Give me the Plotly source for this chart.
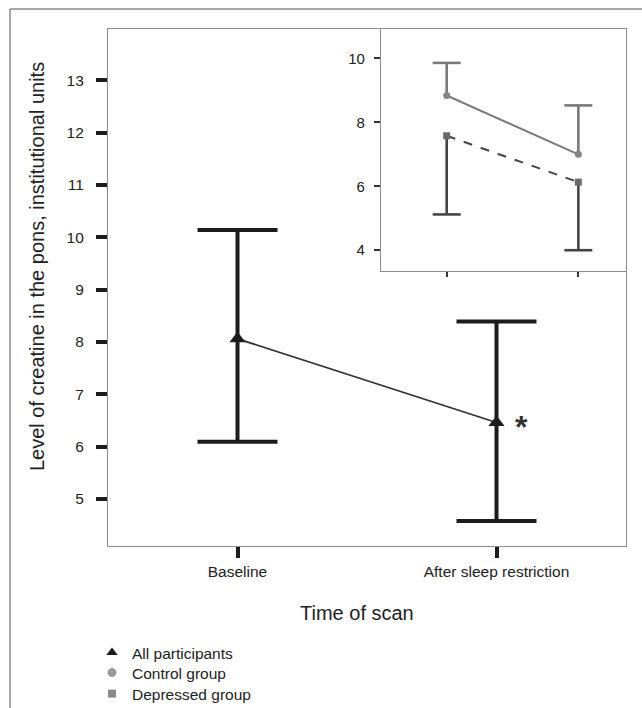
import plotly.graph_objects as go

# ---------------- data ----------------
categories = ["Baseline", "After sleep restriction"]

all_mean = [8.06, 6.46]
all_upper = [10.14, 8.39]
all_lower = [6.09, 4.58]

control_mean = [8.84, 7.00]
control_upper = [9.86, 8.53]

depressed_mean = [7.58, 6.13]
depressed_lower = [5.12, 4.00]

main_yticks = [5, 6, 7, 8, 9, 10, 11, 12, 13]
inset_yticks = [4, 6, 8, 10]

legend_names = ["All participants", "Control group", "Depressed group"]

FONT = "Liberation Sans, Arial, Helvetica, sans-serif"
DARK = "#1c1c1c"
CTRL = "#7a7a7a"
DEPR = "#454545"

fig = go.Figure()

# ---------------- main panel ----------------
fig.add_trace(go.Scatter(
    x=categories, y=all_mean, mode="lines+markers",
    line=dict(color="#333333", width=1.8),
    marker=dict(symbol="triangle-up", size=14, color=DARK),
    error_y=dict(type="data", symmetric=False,
                 array=[u - m for u, m in zip(all_upper, all_mean)],
                 arrayminus=[m - l for m, l in zip(all_mean, all_lower)],
                 color=DARK, thickness=4, width=40),
    showlegend=False, xaxis="x", yaxis="y"))


def stems(means, ends):
    xs, ys = [], []
    for c, m, e in zip(categories, means, ends):
        xs += [c, c, None]
        ys += [m, e, None]
    return xs, ys


# ---------------- inset ----------------
cx, cy = stems(control_mean, control_upper)
fig.add_trace(go.Scatter(x=cx, y=cy, mode="lines", line=dict(color=CTRL, width=2.6),
                         showlegend=False, xaxis="x2", yaxis="y2", hoverinfo="skip"))
fig.add_trace(go.Scatter(x=categories, y=control_upper, mode="markers",
                         marker=dict(symbol="line-ew", size=20, line=dict(color=CTRL, width=2.6)),
                         showlegend=False, xaxis="x2", yaxis="y2"))
dx, dy = stems(depressed_mean, depressed_lower)
fig.add_trace(go.Scatter(x=dx, y=dy, mode="lines", line=dict(color=DEPR, width=2.6),
                         showlegend=False, xaxis="x2", yaxis="y2", hoverinfo="skip"))
fig.add_trace(go.Scatter(x=categories, y=depressed_lower, mode="markers",
                         marker=dict(symbol="line-ew", size=20, line=dict(color=DEPR, width=2.6)),
                         showlegend=False, xaxis="x2", yaxis="y2"))

fig.add_trace(go.Scatter(x=categories, y=control_mean, mode="lines+markers",
                         line=dict(color=CTRL, width=2),
                         marker=dict(symbol="circle", size=7, color="#858585"),
                         showlegend=False, xaxis="x2", yaxis="y2"))
fig.add_trace(go.Scatter(x=categories, y=depressed_mean, mode="lines+markers",
                         line=dict(color=DEPR, width=2, dash="dash"),
                         marker=dict(symbol="square", size=7, color="#6a6a6a"),
                         showlegend=False, xaxis="x2", yaxis="y2"))

# ---------------- legend entries (one small legend per row) ----------------
legend_styles = [
    dict(symbol="triangle-up", size=10, color=DARK),
    dict(symbol="circle", size=9, color="#9a9a9a"),
    dict(symbol="square", size=8, color="#8a8a8a"),
]
legend_ids = ["legend", "legend2", "legend3"]
legend_rows_px = [653, 673, 694]
for name, mk, lid in zip(legend_names, legend_styles, legend_ids):
    fig.add_trace(go.Scatter(x=[None], y=[None], mode="markers", name=name,
                             marker=mk, showlegend=True, legend=lid,
                             xaxis="x", yaxis="y"))

# ---------------- layout ----------------
W, H = 642, 708
L, R, T, B = 108, 16, 29, 162
pw, ph = W - L - R, H - T - B


def px_x(p):
    return (p - L) / pw


def px_y(p):
    return (H - B - p) / ph


axis_line = dict(showline=True, linecolor="#8c8c8c", linewidth=1.2, mirror=True,
                 showgrid=False, zeroline=False)

fig.update_layout(
    width=W, height=H, autosize=False,
    margin=dict(l=L, r=R, t=T, b=B, autoexpand=False),
    paper_bgcolor="white", plot_bgcolor="white",
    font=dict(family=FONT, color="#222222"),
    xaxis=dict(type="category", range=[-0.5, 1.5], domain=[0, 1],
               tickvals=categories, ticktext=categories,
               ticks="outside", ticklen=11, tickwidth=4, tickcolor=DARK,
               tickfont=dict(size=15.5, color="#222222"), ticklabelstandoff=0,
               **axis_line),
    yaxis=dict(range=[4.1, 13.98], domain=[0, 1], tickvals=main_yticks,
               ticks="outside", ticklen=11, tickwidth=3.5, tickcolor=DARK,
               tickfont=dict(size=15.5, color="#222222"), ticklabelstandoff=9,
               **axis_line),
    xaxis2=dict(type="category", range=[-0.499, 1.362], domain=[px_x(381), 1],
                anchor="y2", tickvals=categories, showticklabels=False,
                ticks="outside", ticklen=5, tickwidth=2, tickcolor="#333333",
                **axis_line),
    yaxis2=dict(range=[3.35, 10.92], domain=[px_y(271), 1], anchor="x2",
                tickvals=inset_yticks, ticks="outside", ticklen=6, tickwidth=1.5,
                tickcolor="#333333", tickfont=dict(size=15, color="#222222"),
                ticklabelstandoff=6, **axis_line),
    showlegend=True,
)
for lid, ypx in zip(legend_ids, legend_rows_px):
    fig.update_layout({lid: dict(x=92 / W, y=1 - ypx / H, xref="container", yref="container",
                                 xanchor="left", yanchor="middle",
                                 font=dict(size=15.5, color="#222222"),
                                 bgcolor="rgba(0,0,0,0)", itemwidth=30)})

fig.add_annotation(text="Level of creatine in the pons, institutional units",
                   xref="paper", yref="paper", x=px_x(37), y=px_y(267),
                   textangle=-90, showarrow=False, xanchor="center", yanchor="middle",
                   font=dict(size=20, color="#222222"))
fig.add_annotation(text="Time of scan", xref="paper", yref="paper",
                   x=px_x(357), y=px_y(613), showarrow=False,
                   xanchor="center", yanchor="middle",
                   font=dict(size=20, color="#222222"))
fig.add_annotation(text="<b>*</b>", xref="x", yref="y", x=categories[1], y=all_mean[1],
                   xshift=25, yshift=-4, showarrow=False,
                   font=dict(size=32, color="#333333"))

# outer frame (top and left edges of the figure panel)
frame = dict(color="#8a8a8a", width=1.5)
fig.add_shape(type="line", xref="paper", yref="paper",
              x0=px_x(10), x1=px_x(10), y0=px_y(9), y1=px_y(H + 5), line=frame)
fig.add_shape(type="line", xref="paper", yref="paper",
              x0=px_x(10), x1=px_x(W + 5), y0=px_y(9), y1=px_y(9), line=frame)

fig.write_html("out.html", config={"displayModeBar": False},
               post_script="document.body.style.margin='0px';")
